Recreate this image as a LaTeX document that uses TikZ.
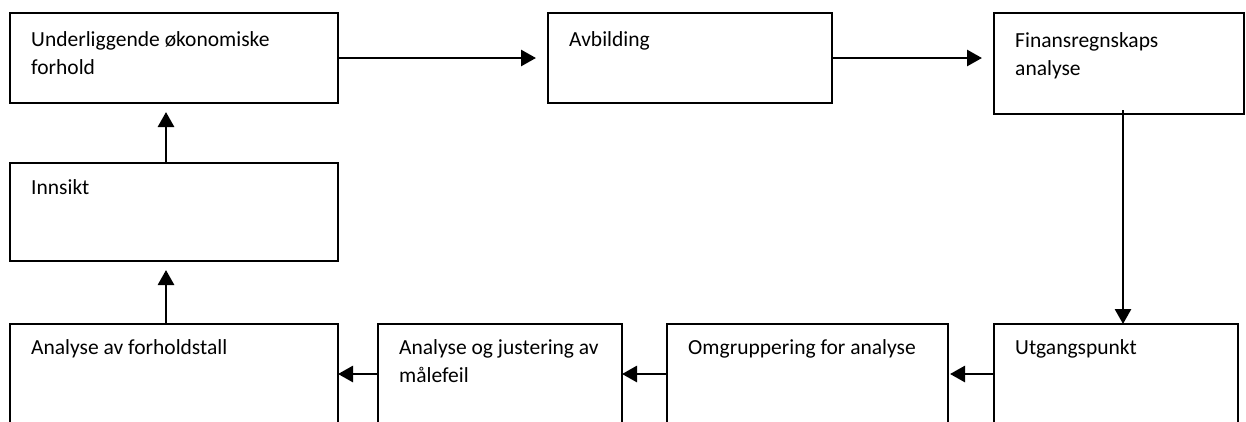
\documentclass[tikz,border=0pt]{standalone}
\usepackage{fontspec}
\setmainfont{Carlito}
\usetikzlibrary{arrows.meta,positioning,calc}

\begin{document}
\begin{tikzpicture}[x=1pt,y=-1pt,>={Triangle[length=15pt,width=16pt]},
  every node/.style={font=\fontsize{21.5}{28}\selectfont}]
  \tikzstyle{box}=[draw,line width=1.8pt,inner sep=0pt,outer sep=0pt,anchor=north west]
  \tikzstyle{lbl}=[anchor=base west,inner sep=0pt,align=left]
  \tikzstyle{flow}=[->,line width=2.8pt]
  \useasboundingbox (0,0) rectangle (1246,421);
  \clip (0,0) rectangle (1246,421);

  % top row
  \node[box,minimum width=328pt,minimum height=90pt] (under) at (10,13) {};
  \node[box,minimum width=284pt,minimum height=90pt,right=210pt of under.north east,anchor=north west] (avbild) {};
  \node[box,minimum width=250pt,minimum height=101pt,right=162pt of avbild.north east,anchor=north west] (finans) {};
  % left column
  \node[box,minimum width=328pt,minimum height=98pt,below=60pt of under.south west,anchor=north west] (innsikt) {};
  % bottom row (runs off the page)
  \node[box,minimum width=244pt,minimum height=100pt,below=210pt of finans.south west,anchor=north west] (utgang) {};
  \node[box,minimum width=281pt,minimum height=100pt,left=46pt of utgang.north west,anchor=north east] (omgrupp) {};
  \node[box,minimum width=244pt,minimum height=100pt,left=45pt of omgrupp.north west,anchor=north east] (maalefeil) {};
  \node[box,minimum width=328pt,minimum height=100pt,left=40pt of maalefeil.north west,anchor=north east] (forhold) {};

  % base = last line, so two-line labels sit one line lower
  \node[lbl] at ($(under.north west)+(21,61)$) {Underliggende økonomiske\\forhold};
  \node[lbl] at ($(avbild.north west)+(21,33)$) {Avbilding};
  \node[lbl] at ($(finans.north west)+(21,62)$) {Finansregnskaps\\analyse};
  \node[lbl] at ($(innsikt.north west)+(21,31)$) {Innsikt};
  \node[lbl] at ($(utgang.north west)+(21,30)$) {Utgangspunkt};
  \node[lbl] at ($(omgrupp.north west)+(21,30)$) {Omgruppering for analyse};
  \node[lbl] at ($(maalefeil.north west)+(21,58)$) {Analyse og justering av\\målefeil};
  \node[lbl] at ($(forhold.north west)+(21,30)$) {Analyse av forholdstall};

  \draw[flow,shorten >=12pt] (under.east) -- (under.east -| avbild.west);
  \draw[flow,shorten >=12pt] (avbild.east) -- (avbild.east -| finans.west);
  \draw[flow] ([xshift=4pt,yshift=4pt]finans.south) -- ([xshift=4pt]finans.south |- utgang.north);
  \draw[flow,shorten >=2pt] (utgang) -- (omgrupp);
  \draw[flow] (omgrupp) -- (maalefeil);
  \draw[flow] (maalefeil) -- (forhold);
  \draw[flow,shorten >=9pt] ([xshift=-8pt]forhold.north) -- ([xshift=-8pt]innsikt.south);
  \draw[flow,shorten >=9pt] ([xshift=-8pt]innsikt.north) -- ([xshift=-8pt]under.south);
\end{tikzpicture}
\end{document}
